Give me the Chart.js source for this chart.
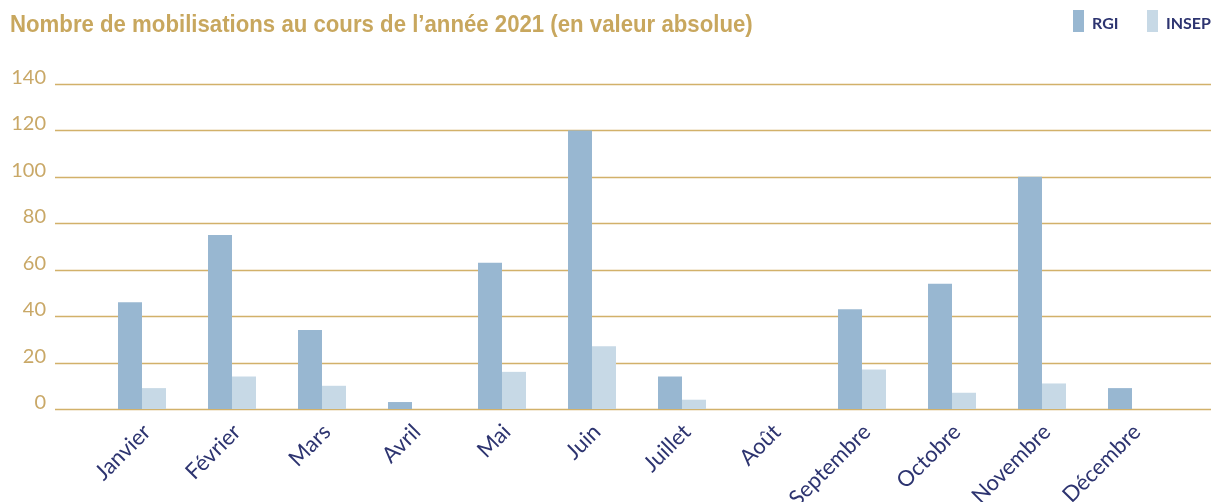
<!DOCTYPE html>
<html>
<head>
<meta charset="utf-8">
<script src="https://cdn.jsdelivr.net/npm/chart.js@4"></script>
<style>
  html, body { margin: 0; padding: 0; background: #fff; overflow: hidden; }
  #wrap { position: relative; width: 1211px; height: 502px; }
  #title {
    position: absolute; left: 10px; top: 12px; margin: 0;
    font-family: "Liberation Sans", sans-serif;
    font-weight: bold; font-size: 24px; line-height: 1; color: #C8A75E;
    white-space: nowrap;
    transform: scaleX(0.925); transform-origin: 0 0;
  }
</style>
</head>
<body>
<div id="wrap">
  <h1 id="title">Nombre de mobilisations au cours de l’année 2021 (en valeur absolue)</h1>
  <canvas id="chart" width="1211" height="502"></canvas>
</div>
<script>
var months = ["Janvier", "Février", "Mars", "Avril", "Mai", "Juin", "Juillet", "Août", "Septembre", "Octobre", "Novembre", "Décembre"];
var rgiValues = [46, 75, 34, 3, 63, 120, 14, 0, 43, 54, 100, 9];
var insepValues = [9, 14, 10, 0, 16, 27, 4, 0, 17, 7, 11, 0];
var yTicks = [0, 20, 40, 60, 80, 100, 120, 140];

var gold = "#D2B16A";
var goldText = "#C9A867";
var navy = "#2D3470";

// gridlines run wider than the bars, and labels sit a bit above them
var gridPlugin = {
    id: "gridPlugin",
    beforeDatasetsDraw: function (chart) {
        var ctx = chart.ctx;
        var y = chart.scales.y;
        ctx.save();
        ctx.font = "20px Lato";
        ctx.fillStyle = goldText;
        ctx.textAlign = "right";
        ctx.textBaseline = "alphabetic";
        yTicks.forEach(function (v) {
            var py = Math.round(y.getPixelForValue(v)) + 0.5;
            ctx.strokeStyle = gold;
            ctx.lineWidth = 1.5;
            ctx.beginPath();
            ctx.moveTo(55, py);
            ctx.lineTo(chart.width, py);
            ctx.stroke();
            ctx.fillText(String(v), 46, py - 1);
        });
        ctx.restore();
    }
};

// legend in the top right corner, boxes are tall and narrow
var legendPlugin = {
    id: "legendPlugin",
    afterDraw: function (chart) {
        var ctx = chart.ctx;
        var x = 1073;
        ctx.save();
        ctx.font = "bold 16px Lato";
        ctx.textBaseline = "alphabetic";
        ctx.textAlign = "left";
        chart.data.datasets.forEach(function (ds) {
            ctx.fillStyle = ds.backgroundColor;
            ctx.fillRect(x, 10, 11, 22);
            ctx.fillStyle = navy;
            ctx.fillText(ds.label, x + 19, 29);
            x += 74;
        });
        ctx.restore();
    }
};

const ctx = document.getElementById("chart").getContext("2d");
new Chart(ctx, {
    type: "bar",
    data: {
        labels: months,
        datasets: [{
            label: "RGI",
            data: rgiValues,
            backgroundColor: "#98B7D1",
            categoryPercentage: 0.533,
            barPercentage: 1.0
        }, {
            label: "INSEP",
            data: insepValues,
            backgroundColor: "#C7D9E6",
            categoryPercentage: 0.533,
            barPercentage: 1.0
        }]
    },
    options: {
        responsive: false,
        animation: false,
        layout: { padding: { top: 84, left: 0, right: 0, bottom: 0 } },
        plugins: {
            title: { display: false },
            tooltip: { enabled: false },
            legend: { display: false }
        },
        scales: {
            x: {
                grid: { display: false },
                border: { display: false },
                ticks: {
                    color: navy,
                    font: { family: "Lato", size: 22 },
                    maxRotation: 45,
                    minRotation: 45,
                    padding: 2,
                    labelOffset: 5
                },
                afterFit: function (s) { s.height = 93; }
            },
            y: {
                min: 0,
                max: 140,
                grid: { display: false },
                border: { display: false },
                ticks: { display: false, stepSize: 20 },
                afterFit: function (s) { s.width = 97; }
            },
            yr: {
                position: "right",
                grid: { display: false },
                border: { display: false },
                ticks: { display: false },
                afterFit: function (s) { s.width = 34; }
            }
        }
    },
    plugins: [gridPlugin, legendPlugin]
});
</script>
</body>
</html>
